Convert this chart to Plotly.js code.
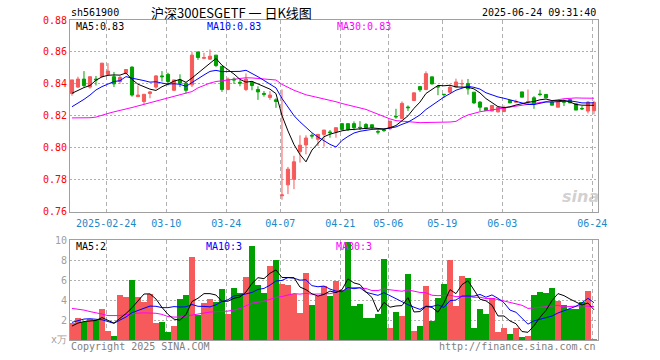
<!DOCTYPE html>
<html><head><meta charset="utf-8">
<script src="https://cdn.plot.ly/plotly-3.0.1.min.js"></script>
<style>html,body{margin:0;padding:0;background:#fff}#chart{width:660px;height:360px}</style>
</head><body><div id="chart"></div>
<script>
const dates = [
"2025-02-14","2025-02-17","2025-02-18","2025-02-19","2025-02-20","2025-02-21","2025-02-24","2025-02-25","2025-02-26","2025-02-27",
"2025-02-28","2025-03-03","2025-03-04","2025-03-05","2025-03-06","2025-03-07","2025-03-10","2025-03-11","2025-03-12","2025-03-13",
"2025-03-14","2025-03-17","2025-03-18","2025-03-19","2025-03-20","2025-03-21","2025-03-24","2025-03-25","2025-03-26","2025-03-27",
"2025-03-28","2025-03-31","2025-04-01","2025-04-02","2025-04-03","2025-04-07","2025-04-08","2025-04-09","2025-04-10","2025-04-11",
"2025-04-14","2025-04-15","2025-04-16","2025-04-17","2025-04-18","2025-04-21","2025-04-22","2025-04-23","2025-04-24","2025-04-25",
"2025-04-28","2025-04-29","2025-04-30","2025-05-06","2025-05-07","2025-05-08","2025-05-09","2025-05-12","2025-05-13","2025-05-14",
"2025-05-15","2025-05-16","2025-05-19","2025-05-20","2025-05-21","2025-05-22","2025-05-23","2025-05-26","2025-05-27","2025-05-28",
"2025-05-29","2025-05-30","2025-06-03","2025-06-04","2025-06-05","2025-06-06","2025-06-09","2025-06-10","2025-06-11","2025-06-12",
"2025-06-13","2025-06-16","2025-06-17","2025-06-18","2025-06-19","2025-06-20","2025-06-23","2025-06-24"];

const openP = [
0.834,0.838,0.843,0.838,0.843,0.8446,0.846,0.8445,0.8415,0.8467,
0.8505,0.832,0.829,0.834,0.838,0.845,0.846,0.836,0.8425,0.8404,
0.8394,0.860,0.856,0.8555,0.858,0.851,0.8365,0.843,0.841,0.8365,
0.841,0.8365,0.834,0.8315,0.830,0.770,0.7768,0.7803,0.7976,0.8018,
0.8078,0.8053,0.8084,0.8099,0.8099,0.8151,0.8151,0.8151,0.8128,0.8146,
0.8144,0.8101,0.8111,0.812,0.8196,0.8184,0.8255,0.8296,0.8383,0.8365,
0.8444,0.8383,0.8335,0.8348,0.838,0.840,0.8402,0.8348,0.8286,0.825,
0.823,0.8225,0.8227,0.8296,0.8286,0.835,0.8286,0.8313,0.8336,0.8334,
0.8286,0.8254,0.8288,0.8302,0.8275,0.8246,0.823,0.8232];

const highP = [
0.8425,0.8445,0.848,0.8445,0.845,0.853,0.853,0.8475,0.845,0.849,
0.851,0.839,0.8335,0.8355,0.8455,0.848,0.847,0.8425,0.846,0.841,
0.860,0.860,0.8595,0.8615,0.858,0.851,0.844,0.844,0.8425,0.8465,
0.8415,0.8385,0.8355,0.8355,0.831,0.8365,0.788,0.795,0.8078,0.8078,
0.809,0.8084,0.8111,0.8111,0.8126,0.8155,0.8155,0.8165,0.8167,0.8155,
0.8146,0.8115,0.812,0.8167,0.8244,0.829,0.8265,0.8344,0.8383,0.8479,
0.8444,0.839,0.8335,0.8396,0.8433,0.8427,0.8431,0.8348,0.8292,0.8252,
0.8267,0.8254,0.8265,0.8298,0.8302,0.835,0.8365,0.8323,0.8363,0.8336,
0.8296,0.8286,0.8302,0.8304,0.8277,0.8261,0.8292,0.8295];

const lowP = [
0.8326,0.8375,0.838,0.837,0.839,0.844,0.845,0.838,0.840,0.846,
0.832,0.832,0.8267,0.831,0.837,0.8415,0.839,0.8355,0.838,0.834,
0.838,0.855,0.8555,0.855,0.8505,0.835,0.836,0.840,0.8385,0.8355,
0.836,0.830,0.832,0.830,0.825,0.7675,0.771,0.7741,0.7907,0.7959,
0.8057,0.8011,0.8007,0.8063,0.8063,0.811,0.8105,0.811,0.8111,0.8115,
0.8115,0.8084,0.8099,0.811,0.8182,0.818,0.823,0.8292,0.835,0.836,
0.8396,0.8329,0.8313,0.8344,0.838,0.8375,0.8333,0.8275,0.8229,0.8232,
0.823,0.8221,0.8223,0.8281,0.8281,0.8317,0.8273,0.8244,0.8323,0.8313,
0.8267,0.8254,0.8261,0.8281,0.8236,0.8236,0.8215,0.8209];

const closeP = [
0.8425,0.843,0.839,0.8445,0.8425,0.853,0.848,0.840,0.844,0.849,
0.833,0.833,0.8335,0.835,0.845,0.8445,0.8415,0.8425,0.8404,0.836,
0.858,0.8565,0.8565,0.8573,0.8515,0.8365,0.843,0.8425,0.8405,0.843,
0.839,0.835,0.8335,0.833,0.829,0.7705,0.7866,0.7912,0.8016,0.8061,
0.8074,0.8084,0.8111,0.8095,0.8126,0.8115,0.8115,0.8126,0.8126,0.8126,
0.8128,0.8099,0.8109,0.8167,0.8194,0.8278,0.8251,0.8344,0.8363,0.8464,
0.840,0.8381,0.8333,0.8379,0.8412,0.8402,0.8369,0.8281,0.8254,0.8234,
0.8265,0.8254,0.8250,0.8281,0.8288,0.8317,0.8288,0.8275,0.8334,0.8313,
0.8267,0.8286,0.8286,0.8281,0.8236,0.8244,0.8286,0.8284];

// volume in units of 10k (万)
const volume = [
1.70,2.23,1.77,2.13,1.97,3.13,0.87,0.37,4.53,4.33,
6.03,4.33,3.83,4.63,1.73,1.83,0.83,1.43,4.13,4.53,
8.33,2.53,3.73,4.13,3.83,5.13,2.63,5.23,4.73,6.33,
9.43,5.53,4.73,7.43,8.03,5.63,5.53,4.63,2.73,6.73,
3.53,4.43,5.43,4.43,5.93,5.03,9.80,3.43,3.63,2.23,
2.23,2.63,8.13,1.23,2.83,2.43,6.63,0.93,1.43,5.43,
1.93,4.23,5.63,8.03,3.43,6.43,6.23,1.23,3.13,2.63,
4.23,0.83,1.23,0.63,1.23,0.33,0.43,4.53,4.83,4.73,
5.23,3.93,3.53,3.13,3.13,3.83,4.93,0.13];

// moving-average values at the start of the window (history before the first bar)
const priceMa5Head  = [0.8341,0.836,0.8377,0.839];
const priceMa10Head = [0.8257,0.8278,0.8303,0.833,0.8362,0.8383,0.840,0.8415,0.842];
const priceMa30Head = [0.8187,0.8187,0.8187,0.8188,0.8192,0.8205,0.8215,0.8225,0.8233,0.8242,
  0.8252,0.8262,0.8272,0.8282,0.829,0.830,0.831,0.832,0.833,0.834,
  0.8352,0.8375,0.839,0.8405,0.8415,0.842,0.8425,0.843,0.8432];
const volMa5Head  = [1.4,1.7,1.85,1.9];
const volMa10Head = [1.77,1.9,2.1,2.13,2.1,2.03,1.85,1.67,2.0];
const volMa30Head = [3.17,3.1,3.0,2.85,2.75,2.6,2.45,2.43,2.45,2.55,
  2.65,2.7,2.72,2.72,2.68,2.57,2.35,2.3,2.3,2.4,
  2.52,2.6,2.7,2.8,2.83,2.87,2.9,3.0,3.15];

const tickDates = ["2025-02-24","2025-03-10","2025-03-24","2025-04-07","2025-04-21","2025-05-06","2025-05-19","2025-06-03","2025-06-24"];
const tickText  = ["2025-02-24","03-10","03-24","04-07","04-21","05-06","05-19","06-03","06-24"];
const priceTicks = [0.76,0.78,0.80,0.82,0.84,0.86,0.88];
const volTicks = [0,2,4,6,8,10];
const volTickText = ["x万","2","4","6","8","10"];

function movingAvg(src, n, head) {
  return src.map((v, i) => {
    if (i < head.length) return head[i];
    let s = 0;
    for (let k = i - n + 1; k <= i; k++) s += src[k];
    return s / n;
  });
}

const xIdx = dates.map((d, i) => i);
const tickIdx = tickDates.map(d => dates.indexOf(d) - 0.3);
const UP = '#f65a5a', DOWN = '#00a000';
const volColors = closeP.map((c, i) => (c >= openP[i] ? UP : DOWN));
const MONO = 'DejaVu Sans Mono, monospace';

const L = 70, R = 598, T = 20, B = 340;
const px = x => (x - L) / (R - L);
const py = y => (B - y) / (B - T);

const traces = [
  {type:'candlestick', x:xIdx, open:openP, high:highP, low:lowP, close:closeP, text:dates,
   xaxis:'x', yaxis:'y', whiskerwidth:0, hoverinfo:'text',
   increasing:{line:{color:UP,width:1}, fillcolor:UP},
   decreasing:{line:{color:DOWN,width:1}, fillcolor:DOWN}},
  {type:'scatter', mode:'lines', x:xIdx, y:movingAvg(closeP,30,priceMa30Head), xaxis:'x', yaxis:'y', line:{color:'#ff00ff',width:1}, hoverinfo:'skip'},
  {type:'scatter', mode:'lines', x:xIdx, y:movingAvg(closeP,10,priceMa10Head), xaxis:'x', yaxis:'y', line:{color:'#0000ff',width:1}, hoverinfo:'skip'},
  {type:'scatter', mode:'lines', x:xIdx, y:movingAvg(closeP,5,priceMa5Head), xaxis:'x', yaxis:'y', line:{color:'#000000',width:1}, hoverinfo:'skip'},
  {type:'bar', x:xIdx, y:volume, xaxis:'x2', yaxis:'y2', width:0.84, marker:{color:volColors, line:{width:0}}, hoverinfo:'skip'},
  {type:'scatter', mode:'lines', x:xIdx, y:movingAvg(volume,30,volMa30Head), xaxis:'x2', yaxis:'y2', line:{color:'#ff00ff',width:1}, hoverinfo:'skip'},
  {type:'scatter', mode:'lines', x:xIdx, y:movingAvg(volume,10,volMa10Head), xaxis:'x2', yaxis:'y2', line:{color:'#0000ff',width:1}, hoverinfo:'skip'},
  {type:'scatter', mode:'lines', x:xIdx, y:movingAvg(volume,5,volMa5Head), xaxis:'x2', yaxis:'y2', line:{color:'#000000',width:1}, hoverinfo:'skip'}
];

function ann(text, x, y, color, xanchor, size, family) {
  return {text:text, xref:'paper', yref:'paper', x:px(x), y:py(y), xanchor:xanchor||'left', yanchor:'middle',
          showarrow:false, font:{family:family||MONO, size:size||10, color:color||'#000'}};
}

const gridX = {showgrid:true, gridcolor:'#b0b0b0', gridwidth:1, griddash:'4px,3px'};
const gridY = {showgrid:true, gridcolor:'#b0b0b0', gridwidth:1, griddash:'2px,2px'};

const layout = {
  width:660, height:360, margin:{l:L, r:660-R, t:T, b:360-B},
  paper_bgcolor:'#fff', plot_bgcolor:'#fff', showlegend:false, boxgap:0.25, bargap:0,
  xaxis: Object.assign({domain:[0,1], anchor:'y', range:[-0.33,87.67], tickmode:'array', tickvals:tickIdx, ticktext:tickText,
    tickfont:{family:MONO, size:10, color:'#1d88c9'}, ticks:'', showline:true, mirror:true, linecolor:'#a0a0a0', linewidth:1,
    zeroline:false, rangeslider:{visible:false}, fixedrange:true, ticklabelstandoff:2}, gridX),
  yaxis: Object.assign({domain:[0.401,1], anchor:'x', range:[0.76,0.88], tickmode:'array', tickvals:priceTicks,
    ticktext:priceTicks.map(v => v.toFixed(2)), tickfont:{family:MONO, size:10, color:'#ff0000'}, ticks:'',
    showline:true, mirror:true, linecolor:'#a0a0a0', linewidth:1, zeroline:false, fixedrange:true}, gridY),
  xaxis2: Object.assign({domain:[0,1], anchor:'y2', matches:'x', range:[-0.33,87.67], tickmode:'array', tickvals:tickIdx,
    showticklabels:false, ticks:'', showline:true, mirror:true, linecolor:'#a0a0a0', linewidth:1, zeroline:false, fixedrange:true}, gridX),
  yaxis2: Object.assign({domain:[0,0.3116], anchor:'x2', range:[0,10], tickmode:'array', tickvals:volTicks, ticktext:volTickText,
    tickfont:{family:MONO, size:10, color:'#a0a0a0'}, ticks:'', showline:true, mirror:true, linecolor:'#a0a0a0', linewidth:1,
    zeroline:false, fixedrange:true}, gridY),
  annotations: [
    ann('sh561900', 69, 13, '#000'),
    ann('沪深300ESGETF 一 日K线图', 231, 13, '#000', 'center', 13, 'Noto Sans CJK SC'),
    ann('2025-06-24 09:31:40', 598, 13, '#000', 'right'),
    ann('MA5:0.83', 74, 26.5, '#000'),
    ann('MA10:0.83', 205, 26.5, '#0000ff'),
    ann('MA30:0.83', 335, 26.5, '#ff00ff'),
    ann('MA5:2', 74, 246.5, '#000'),
    ann('MA10:3', 204, 246.5, '#0000ff'),
    ann('MA30:3', 334, 246.5, '#ff00ff'),
    ann('Copyright 2025 SINA.COM', 69, 346.5, '#808080'),
    ann('http://finance.sina.com.cn', 598, 346.5, '#808080', 'right'),
    {text:'<b><i>sina</i></b>', xref:'paper', yref:'paper', x:px(580), y:py(196), xanchor:'center', yanchor:'middle',
     showarrow:false, font:{family:'DejaVu Sans', size:16, color:'rgba(170,170,170,0.55)'}}
  ]
};

Plotly.newPlot('chart', traces, layout, {staticPlot:true, displayModeBar:false});
</script>
</body></html>
